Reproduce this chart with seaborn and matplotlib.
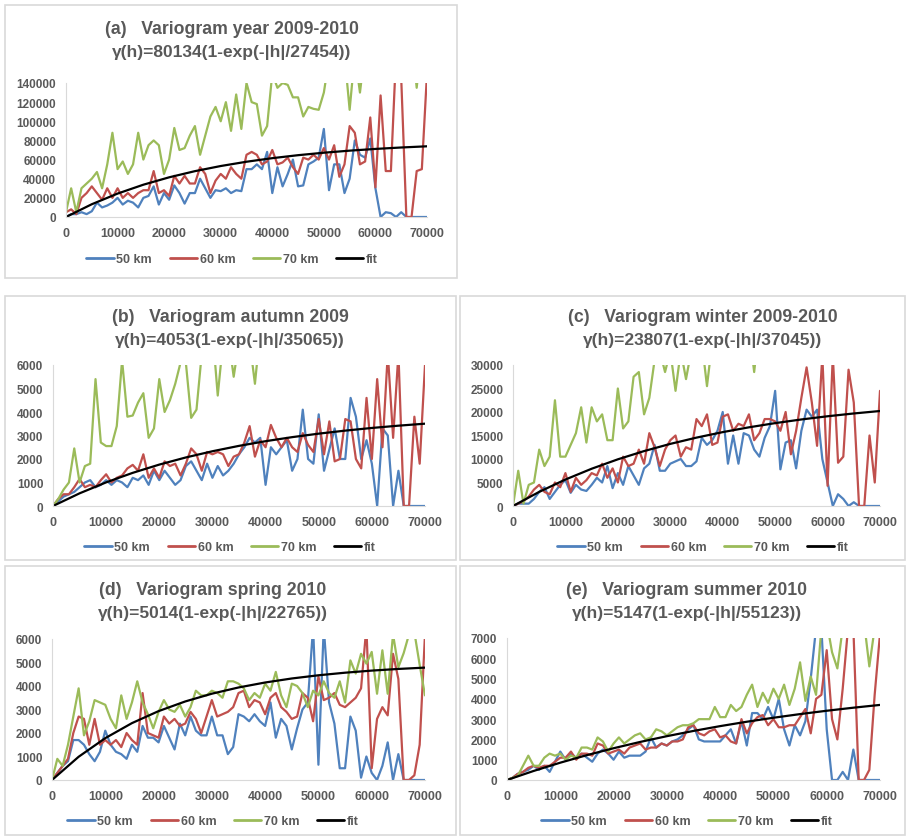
import pandas as pd
import matplotlib.pyplot as plt
import seaborn as sns
from matplotlib.patches import Rectangle

# lag distance (m) of the experimental points and of the fitted curve
lags = list(range(0, 70001, 1000))
fit_lags = list(range(0, 70001, 5000))

# (a) year 2009-2010
year_50 = [0, 3000, 3000, 5000, 3000, 6000, 15000, 10000, 12000, 15000,
           20000, 13000, 17000, 15000, 10000, 20000, 22000, 32000, 13000, 25000,
           18000, 33000, 25000, 14000, 25000, 25000, 40000, 30000, 20000, 28000,
           27000, 30000, 25000, 28000, 27000, 50000, 50000, 55000, 50000, 68000,
           25000, 52000, 32000, 45000, 60000, 32000, 33000, 55000, 58000, 62000,
           92000, 28000, 55000, 55000, 25000, 40000, 80000, 65000, 62000, 82000,
           30000, 0, 5000, 4000, 0, 5000, 0, 0, 0, 0, 0]
year_60 = [5000, 8000, 3000, 20000, 25000, 32000, 25000, 18000, 30000, 20000,
           30000, 20000, 25000, 20000, 25000, 28000, 28000, 48000, 25000, 28000,
           22000, 43000, 35000, 43000, 35000, 35000, 52000, 45000, 25000, 38000,
           45000, 40000, 52000, 45000, 40000, 65000, 68000, 65000, 55000, 58000,
           70000, 55000, 57000, 62000, 52000, 45000, 62000, 60000, 65000, 60000,
           72000, 60000, 75000, 42000, 55000, 95000, 88000, 55000, 58000, 104000,
           31000, 127000, 48000, 48000, 170000, 145000, 0, 0, 48000, 50000, 150000]
year_70 = [5000, 30000, 5000, 30000, 35000, 40000, 47000, 30000, 55000, 88000,
           50000, 58000, 45000, 55000, 88000, 60000, 75000, 80000, 75000, 45000,
           60000, 93000, 70000, 72000, 85000, 95000, 65000, 85000, 105000, 115000,
           100000, 120000, 90000, 128000, 92000, 140000, 120000, 118000, 85000, 95000,
           150000, 135000, 140000, 138000, 125000, 125000, 105000, 115000, 113000, 112000,
           130000, 165000, 170000, 175000, 170000, 112000, 170000, 130000, 175000, 180000,
           185000, 180000, 190000, 185000, 180000, 190000, 185000, 190000, 135000, 185000, 190000]
year_fit = [0, 13340, 24460, 33740, 41460, 47900, 53260, 57740, 61470, 64580,
            67170, 69320, 71120, 72620, 73870]

# (b) autumn 2009
autumn_50 = [0, 200, 400, 500, 600, 800, 1000, 1100, 800, 900,
             1100, 900, 1100, 1000, 800, 1200, 1100, 1300, 900, 1500,
             1100, 1500, 1200, 900, 1100, 1700, 1900, 1500, 1100, 1800,
             1200, 1700, 1300, 1500, 1800, 2200, 2500, 2900, 2700, 2900,
             900, 2500, 2200, 2500, 2800, 1500, 2000, 4100, 2000, 1800,
             3900, 1500, 2400, 3300, 2000, 2000, 4600, 3800, 2000, 2800,
             1800, 0, 3300, 3000, 0, 1500, 0, 0, 0, 0, 0]
autumn_60 = [0, 300, 500, 500, 800, 1150, 800, 900, 800, 1100,
             1350, 1000, 1200, 1300, 1600, 1750, 1500, 2200, 1200, 1600,
             1200, 1900, 1700, 1800, 1300, 1800, 2450, 2200, 1500, 2300,
             2200, 2300, 2200, 1700, 2100, 2200, 2700, 3400, 2100, 2800,
             2500, 3450, 2900, 2500, 2900, 2500, 2300, 3100, 2600, 2300,
             3700, 2200, 3600, 1900, 2000, 3700, 3600, 2000, 1600, 4600,
             2000, 5400, 2500, 6500, 2900, 6500, 0, 0, 3800, 1800, 6000]
autumn_70 = [0, 300, 700, 1000, 2450, 1000, 1700, 1800, 5400, 2700,
             2550, 2550, 3400, 6200, 3800, 3850, 4400, 4800, 2900, 3300,
             5400, 4000, 4500, 5200, 6100, 6100, 3750, 4100, 6500, 7000,
             7500, 4700, 7000, 7200, 5500, 7000, 7500, 7000, 5200, 7500,
             8000, 7500, 8000, 8500, 8000, 9000, 8500, 9000, 8500, 9000,
             9500, 9000, 9500, 10000, 9500, 10000, 9500, 10000, 10500, 10000,
             10500, 11000, 10000, 11000, 10500, 11000, 11500, 11000, 12000, 11500, 12000]
autumn_fit = [0, 539, 1006, 1411, 1762, 2066, 2330, 2559, 2758, 2930,
              3079, 3208, 3321, 3418, 3503]

# (c) winter 2009-2010
winter_50 = [0, 500, 500, 500, 1500, 3000, 4000, 1500, 3000, 4500,
             5500, 2800, 4500, 3500, 3200, 4500, 6000, 5000, 8500, 3800,
             7000, 4500, 8500, 6500, 4500, 8000, 9000, 13000, 7500, 7500,
             9000, 9500, 10000, 8500, 8500, 9500, 14500, 13000, 14000, 16000,
             20000, 9000, 15000, 9000, 15500, 15000, 12000, 10500, 14500, 17000,
             24500, 7800, 13500, 14000, 8000, 16000, 20500, 19000, 20500, 10000,
             5000, 0, 2500, 1500, 0, 800, 0, 0, 0, 0, 0]
winter_60 = [0, 500, 1000, 2000, 3500, 4500, 3000, 2500, 5000, 4000,
             7000, 3000, 6000, 4500, 5500, 7000, 6500, 9000, 6000, 8000,
             5000, 10500, 8500, 9000, 12000, 9000, 15500, 12500, 8500, 12000,
             14000, 15000, 10500, 12500, 12000, 18500, 17000, 19500, 13000, 13500,
             19000, 19500, 16000, 17500, 17000, 19500, 14000, 15500, 18500, 18500,
             18000, 16000, 20000, 11000, 16000, 23000, 29500, 22000, 12800, 32000,
             4300, 32000, 9200, 10500, 29000, 22000, 0, 0, 15000, 5000, 24500]
winter_70 = [0, 7500, 500, 4500, 5000, 12000, 8500, 10500, 22500, 10500,
             10500, 13000, 15500, 21000, 13500, 21000, 18000, 19500, 14000, 14000,
             25000, 16500, 18000, 27500, 28500, 19500, 23000, 31000, 33000, 28500,
             33000, 24500, 33000, 27000, 33000, 34000, 35000, 25500, 35000, 36000,
             36000, 37000, 36000, 38000, 37000, 38000, 28500, 39000, 38000, 40000,
             40000, 41000, 40000, 42000, 41000, 42000, 43000, 42000, 44000, 43000,
             44000, 45000, 44000, 46000, 45000, 46000, 47000, 46000, 48000, 47000, 48000]
winter_fit = [0, 3007, 5633, 7928, 9932, 11684, 13215, 14551, 15720, 16741,
              17634, 18412, 19093, 19688, 20210]

# (d) spring 2010
spring_50 = [0, 300, 600, 800, 1700, 1700, 1500, 1100, 800, 1200,
             2100, 1500, 1200, 1100, 900, 1500, 1200, 2300, 1800, 1800,
             1600, 2300, 1800, 1300, 2400, 1900, 2700, 2100, 1900, 1900,
             2700, 1900, 1900, 1100, 1400, 2800, 2700, 2500, 2800, 2500,
             2300, 3300, 1800, 2600, 2300, 1300, 2200, 3000, 3300, 6500,
             650, 6500, 3300, 2400, 500, 500, 2700, 2100, 100, 1000,
             300, 0, 600, 1600, 0, 1100, 0, 0, 0, 0, 0]
spring_60 = [0, 300, 600, 900, 2000, 2700, 2600, 1500, 2600, 1500,
             1700, 1500, 1700, 1400, 2000, 1700, 1500, 3700, 2000, 1900,
             1800, 2700, 2400, 2600, 2300, 2400, 2900, 2600, 2000, 2700,
             3400, 2700, 2800, 2900, 3100, 3700, 3800, 3100, 3400, 3300,
             2800, 3500, 3700, 3100, 2900, 2600, 2700, 3700, 3500, 2500,
             4400, 3400, 3500, 3700, 3200, 3100, 3300, 3500, 3900, 6500,
             500, 2600, 3100, 2750, 5370, 4300, 0, 0, 200, 1500, 6200]
spring_70 = [0, 900, 600, 1500, 2700, 3900, 1900, 2500, 3400, 3300,
             3200, 2600, 2200, 3600, 2600, 3300, 4200, 3300, 2800, 2200,
             2900, 3400, 3000, 2900, 3200, 2700, 3100, 3800, 3600, 3600,
             3800, 3700, 3500, 4200, 4200, 4100, 3900, 3400, 3700, 3500,
             4100, 3800, 4600, 3600, 3100, 4100, 4000, 3700, 3100, 3800,
             3600, 4200, 3700, 3500, 4200, 3300, 5090, 4530, 5370, 4950,
             5450, 3670, 5520, 3670, 6200, 4800, 5400, 6200, 6300, 4900, 3600]
spring_fit = [0, 989, 1782, 2420, 2931, 3342, 3672, 3937, 4149, 4320,
              4456, 4566, 4655, 4726, 4782]

# (e) summer 2010
summer_50 = [0, 100, 300, 400, 500, 700, 500, 700, 400, 900,
             1400, 1000, 1300, 1100, 1300, 1100, 900, 1300, 1500, 1300,
             1000, 1400, 1100, 1200, 1200, 1200, 1400, 2100, 1600, 1800,
             1700, 1900, 2000, 2200, 2500, 2700, 2000, 1900, 1900, 1900,
             1900, 2200, 2500, 1800, 2900, 1700, 3300, 3300, 3000, 3600,
             3000, 4000, 2500, 1700, 2700, 2200, 2900, 5000, 7500, 7500,
             2500, 0, 0, 400, 0, 1500, 0, 0, 0, 0, 0]
summer_60 = [0, 100, 300, 400, 600, 700, 600, 700, 700, 900,
             1100, 1100, 1400, 1000, 1300, 1300, 1200, 1800, 1700, 1300,
             1400, 1500, 1300, 1600, 1700, 1800, 1500, 1600, 1600, 1800,
             1700, 1900, 1900, 2000, 2600, 2700, 2300, 2200, 2400, 2500,
             2100, 2200, 1900, 1800, 3000, 2300, 2800, 3100, 3200, 2700,
             3000, 2600, 2600, 2700, 2700, 3100, 3500, 2300, 4000, 4200,
             6400, 3000, 2000, 4500, 7500, 7500, 0, 0, 500, 4200, 7200]
summer_70 = [0, 100, 200, 700, 1200, 700, 700, 1100, 1300, 1200,
             1300, 1000, 1200, 1100, 1600, 1600, 1500, 2100, 1900, 1400,
             1800, 2100, 1800, 2000, 2200, 2300, 2000, 2100, 2500, 2400,
             2200, 2400, 2600, 2700, 2700, 2800, 3000, 3000, 3000, 3600,
             3100, 3100, 3700, 3400, 3600, 4200, 4700, 3600, 4300, 3800,
             4500, 4000, 4700, 3700, 4500, 5800, 3900, 5100, 4200, 7500,
             7800, 6300, 5500, 7500, 8000, 7800, 8000, 7800, 5600, 7500, 8000]
summer_fit = [0, 446, 854, 1226, 1566, 1877, 2160, 2419, 2656, 2872,
              3069, 3249, 3414, 3564, 3701]

series_names = ["50 km", "60 km", "70 km", "fit"]
colors = {"50 km": "#4F81BD", "60 km": "#C0504D", "70 km": "#9BBB59", "fit": "black"}

W, H = 909, 837
TXT = "#595959"

sns.set_theme(style="white")
plt.rcParams["font.family"] = ["Liberation Sans", "DejaVu Sans"]
plt.rcParams["font.weight"] = "bold"

fig = plt.figure(figsize=(W / 100, H / 100), dpi=100)


def frac_box(x0, y0, x1, y1):
    return [x0 / W, 1 - y1 / H, (x1 - x0) / W, (y1 - y0) / H]


def panel(box, frame, ymax, title, formula, title_x, title_y, legend_y,
          s50, s60, s70, fit):
    rows = []
    for name, vals in zip(series_names[:3], [s50, s60, s70]):
        rows += [{"lag": h, "gamma": v, "series": name} for h, v in zip(lags, vals)]
    rows += [{"lag": h, "gamma": v, "series": "fit"} for h, v in zip(fit_lags, fit)]
    df = pd.DataFrame(rows)

    fig.add_artist(Rectangle((frame[0] / W, 1 - frame[3] / H),
                             (frame[2] - frame[0]) / W, (frame[3] - frame[1]) / H,
                             transform=fig.transFigure, fill=False,
                             ec="#d9d9d9", lw=1.2))

    ax = fig.add_axes(frac_box(*box))
    sns.lineplot(data=df, x="lag", y="gamma", hue="series", hue_order=series_names,
                 palette=colors, errorbar=None, estimator=None, lw=1.6, ax=ax)
    ax.lines[-1].set_linewidth(2.0)
    ax.set_xlim(0, 70000)
    ax.set_ylim(0, ymax)
    ax.set_xticks(range(0, 70001, 10000))
    step = ymax // 7 if ymax in (7000, 140000) else ymax // 6
    ax.set_yticks(range(0, ymax + 1, step))
    ax.set_xlabel("")
    ax.set_ylabel("")
    ax.tick_params(length=0, colors=TXT, pad=7)
    ax.tick_params(axis="x", labelsize=9)
    ax.tick_params(axis="y", labelsize=8.5)
    for lab in ax.get_xticklabels() + ax.get_yticklabels():
        lab.set_fontweight("bold")
    for side in ["top", "right"]:
        ax.spines[side].set_visible(False)
    for side in ["left", "bottom"]:
        ax.spines[side].set_color("#d9d9d9")
        ax.spines[side].set_linewidth(0.8)

    handles, labels = ax.get_legend_handles_labels()
    ax.get_legend().remove()
    leg = fig.legend(handles, labels, loc="center",
                     bbox_to_anchor=(title_x / W, 1 - legend_y / H), ncol=4,
                     frameon=False, fontsize=9, handlelength=2.2,
                     handletextpad=0.2, columnspacing=1.4)
    for t in leg.get_texts():
        t.set_color(TXT)
        t.set_fontweight("bold")
    for ln in leg.get_lines():
        ln.set_linewidth(2.0)

    fig.text(title_x / W, 1 - title_y / H, title, ha="center", va="center",
             fontsize=12.7, fontweight="bold", color=TXT)
    fig.text(title_x / W, 1 - (title_y + 23) / H, formula, ha="center",
             va="center", fontsize=12.5, fontweight="bold", color=TXT)


panel((66, 84, 427, 218), (5, 6, 457, 279), 140000,
      "(a)   Variogram year 2009-2010", "γ(h)=80134(1-exp(-|h|/27454))",
      232, 29, 260, year_50, year_60, year_70, year_fit)
panel((53, 366, 425, 507), (5, 297, 456, 561), 6000,
      "(b)   Variogram autumn 2009", "γ(h)=4053(1-exp(-|h|/35065))",
      230, 318, 548, autumn_50, autumn_60, autumn_70, autumn_fit)
panel((513, 366, 880, 507), (460, 297, 905, 561), 30000,
      "(c)   Variogram winter 2009-2010", "γ(h)=23807(1-exp(-|h|/37045))",
      703, 318, 548, winter_50, winter_60, winter_70, winter_fit)
panel((52, 640, 425, 781), (5, 567, 456, 836), 6000,
      "(d)   Variogram spring 2010", "γ(h)=5014(1-exp(-|h|/22765))",
      213, 591, 822, spring_50, spring_60, spring_70, spring_fit)
panel((507, 639, 880, 781), (460, 567, 905, 836), 7000,
      "(e)   Variogram summer 2010", "γ(h)=5147(1-exp(-|h|/55123))",
      687, 591, 822, summer_50, summer_60, summer_70, summer_fit)

fig.savefig("out.png", dpi=100, facecolor="white")
